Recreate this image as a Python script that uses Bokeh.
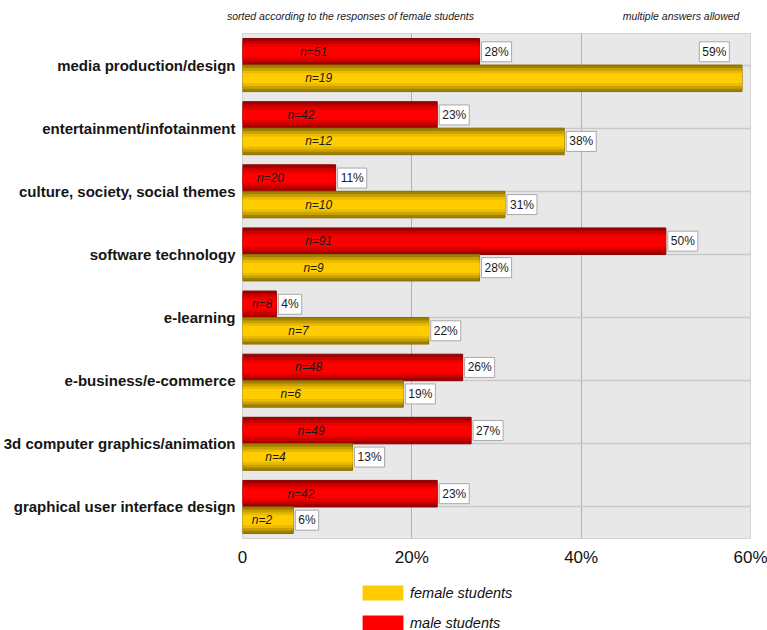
from bokeh.plotting import figure
from bokeh.layouts import column
from bokeh.models import (Range1d, FixedTicker, Label, Legend, LegendItem,
                          ColumnDataSource, LinearAxis)
from bokeh.core.properties import value
from bokeh.embed import file_html
from bokeh.resources import INLINE

# ---------------- data ----------------
categories = [
    "media production/design",
    "entertainment/infotainment",
    "culture, society, social themes",
    "software technology",
    "e-learning",
    "e-business/e-commerce",
    "3d computer graphics/animation",
    "graphical user interface design",
]
female_pct = [59, 38, 31, 28, 22, 19, 13, 6]
male_pct = [28, 23, 11, 50, 4, 26, 27, 23]
female_n = [19, 12, 10, 9, 7, 6, 4, 2]
male_n = [51, 42, 20, 91, 8, 48, 49, 42]
x_ticks = [0, 20, 40, 60]
x_tick_labels = ["0", "20%", "40%", "60%"]
series_names = ["female students", "male students"]
note_left = "sorted according to the responses of female students"
note_right = "multiple answers allowed"

FONT = "Liberation Sans"
W = 767
NCAT = len(categories)
centers = [NCAT - i - 0.5 for i in range(NCAT)]
BAR_H = 0.42
red_y = [c + BAR_H / 2 for c in centers]
yel_y = [c - BAR_H / 2 for c in centers]

# ---------------- main chart ----------------
p = figure(width=W, height=570, output_backend="svg", toolbar_location=None,
           x_range=Range1d(0, 60), y_range=Range1d(0, NCAT),
           min_border_left=242, min_border_top=33, min_border_right=17,
           min_border_bottom=32)
p.background_fill_color = "#e8e8e8"
p.border_fill_color = "white"
p.outline_line_color = "#d4d4d4"

p.xgrid.ticker = FixedTicker(ticks=[20, 40])
p.xgrid.grid_line_color = "#9fb6c9"
p.xgrid.grid_line_width = 1
p.ygrid.ticker = FixedTicker(ticks=centers)
p.ygrid.grid_line_color = "#c9c9c9"
p.ygrid.grid_line_width = 1.5

p.xaxis.ticker = FixedTicker(ticks=x_ticks)
p.xaxis.major_label_overrides = {t: l for t, l in zip(x_ticks, x_tick_labels)}
p.xaxis.axis_line_color = None
p.xaxis.major_tick_line_color = None
p.xaxis.minor_tick_line_color = None
p.xaxis.major_label_text_font = FONT
p.xaxis.major_label_text_font_size = "17px"
p.xaxis.major_label_text_color = "#111111"
p.xaxis.major_label_standoff = 3

p.yaxis.ticker = FixedTicker(ticks=centers)
p.yaxis.major_label_overrides = {c: name for c, name in zip(centers, categories)}
p.yaxis.axis_line_color = None
p.yaxis.major_tick_line_color = None
p.yaxis.minor_tick_line_color = None
p.yaxis.major_label_text_font = FONT
p.yaxis.major_label_text_font_style = "bold"
p.yaxis.major_label_text_font_size = "15px"
p.yaxis.major_label_text_color = "#151515"
p.yaxis.major_label_standoff = 1

# notes above the plot area (label-only axis)
note_pos = [12.75, 51.8]
note_axis = LinearAxis(ticker=FixedTicker(ticks=note_pos),
                       major_label_overrides={note_pos[0]: note_left, note_pos[1]: note_right},
                       axis_line_color=None, major_tick_line_color=None,
                       minor_tick_line_color=None, major_label_standoff=6,
                       major_label_text_font=FONT, major_label_text_font_style="italic",
                       major_label_text_font_size="10.5px", major_label_text_color="#1a1a1a")
p.add_layout(note_axis, "above")

red_shades = ["#a00000", "#c80000", "#e80000", "#ff0000"]
yel_shades = ["#a08000", "#c9a000", "#e8ba00", "#ffcc00"]
fracs = [1.0, 0.78, 0.58, 0.38]
for k, (fr, rc, yc) in enumerate(zip(fracs, red_shades, yel_shades)):
    p.hbar(y=red_y, right=male_pct, left=0, height=BAR_H * fr,
           fill_color=rc, line_color="#8c0000" if k == 0 else None, line_width=1)
    p.hbar(y=yel_y, right=female_pct, left=0, height=BAR_H * fr,
           fill_color=yc, line_color="#8c6e00" if k == 0 else None, line_width=1)


def n_pos(v):
    return min(max(v * 0.3, 2.3), 9.0)


n_src = ColumnDataSource(dict(
    x=[n_pos(v) for v in male_pct] + [n_pos(v) for v in female_pct],
    y=red_y + yel_y,
    t=[f"n={n}" for n in male_n] + [f"n={n}" for n in female_n],
))
p.text(x="x", y="y", text="t", source=n_src, text_font=value(FONT),
       text_font_style="italic", text_font_size="12px", text_color="#1a1a1a",
       text_align="center", text_baseline="middle")


def pct_label(v, y, row_above_y):
    common = dict(text=f"{v}%", text_font=FONT, text_font_size="12px",
                  text_color="#1a1a1a", background_fill_color="white",
                  border_line_color="#a8a8a8", padding=3)
    if v > 56:
        return Label(x=v - 1.5, y=row_above_y, anchor="center_right", **common)
    return Label(x=v, y=y, x_offset=2, anchor="center_left", **common)


for v, y in zip(male_pct, red_y):
    p.add_layout(pct_label(v, y, y))
for v, y, ry in zip(female_pct, yel_y, red_y):
    p.add_layout(pct_label(v, y, ry))

# ---------------- legend strip (bottom) ----------------
leg = figure(width=W, height=60, output_backend="svg", toolbar_location=None,
             x_range=Range1d(0, 1), y_range=Range1d(0, 1),
             min_border=0, x_axis_location=None, y_axis_location=None)
leg.outline_line_color = None
leg.grid.visible = False
# swatch proxies kept outside the visible range of this strip
sw_f = leg.hbar(y=[-5], right=[1], height=0.1, fill_color="#ffcc00", line_color=None)
sw_m = leg.hbar(y=[-5], right=[1], height=0.1, fill_color="#ff0000", line_color=None)
legend = Legend(items=[LegendItem(label=series_names[0], renderers=[sw_f]),
                       LegendItem(label=series_names[1], renderers=[sw_m])],
                location=(115, -2), orientation="vertical",
                glyph_width=51, glyph_height=19, label_height=19, spacing=11,
                label_standoff=2, padding=0, margin=0,
                label_text_font=FONT, label_text_font_style="italic",
                label_text_font_size="14.5px", label_text_color="#111111",
                background_fill_alpha=0, border_line_color=None)
leg.add_layout(legend)

layout = column(p, leg, spacing=0)
open("out.html", "w").write(file_html(layout, INLINE))
